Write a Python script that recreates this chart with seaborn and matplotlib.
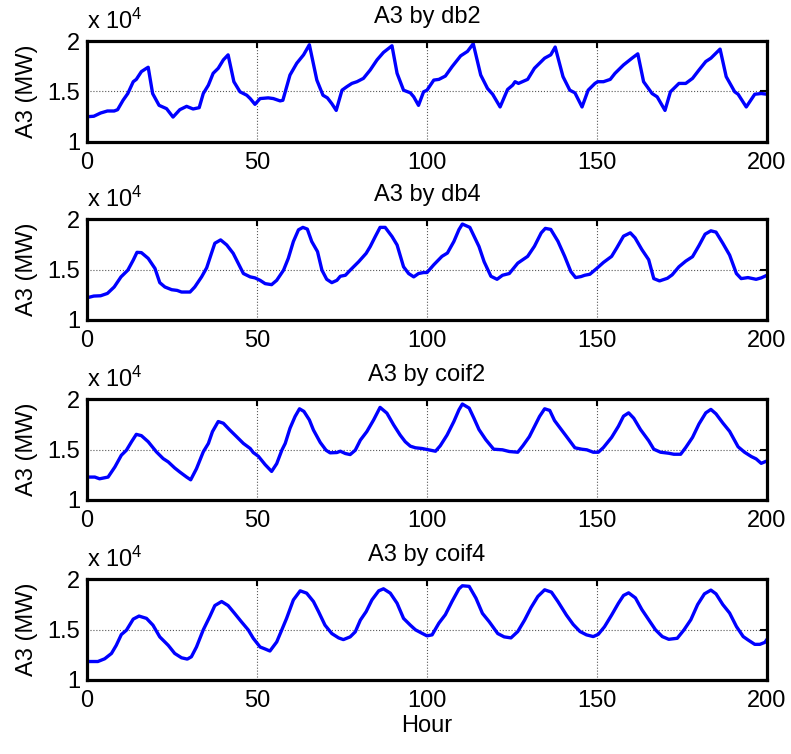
import numpy as np
import pandas as pd
import matplotlib
matplotlib.use("Agg")
import matplotlib.pyplot as plt
import seaborn as sns

# hour / load pairs
h_db2 = [0, 2, 4, 6, 8, 9, 10.6, 12, 13.6, 14.5,
         16, 17.5, 18, 19.3, 21.2, 23.4, 25.3, 27.3, 29.3, 31.2,
         33, 34.2, 35.7, 37.1, 38.6, 40.1, 41.5, 43.2, 45, 47,
         48, 49.4, 50.9, 53.3, 54.8, 56.8, 57.6, 59.7, 61.7, 63.7,
         65.4, 67.6, 69.4, 70.7, 72, 73.3, 75, 76.4, 77.9, 79.4,
         81.3, 83.3, 85.3, 87.2, 89.7, 91.2, 93.1, 95.1, 96.1, 97.5,
         99, 100, 102, 103.5, 105.4, 107.4, 109.9, 111.9, 113.6, 115.8,
         117.8, 119.3, 121.5, 123.7, 125.2, 125.9, 126.9, 129.6, 131.6, 134.6,
         136.4, 137.7, 140, 142, 143.5, 145.6, 147.4, 149.4, 150.2, 151.9,
         153.9, 155.3, 157.8, 160.3, 162, 163.7, 166.2, 167.7, 170, 171.6,
         174.1, 176.1, 178.1, 180, 182, 183.5, 186.2, 188, 190.5, 191.5,
         193.9, 196.4, 198.3, 200]
mw_db2 = [12500, 12550, 12870, 13070, 13070, 13200, 14130, 14800, 15970, 16200,
          16970, 17300, 17400, 14800, 13630, 13300, 12470, 13200, 13530, 13270,
          13400, 14800, 15630, 16800, 17300, 18130, 18630, 15970, 14970, 14630,
          14300, 13730, 14300, 14370, 14300, 14070, 14130, 16630, 17800, 18630,
          19630, 16130, 14630, 14370, 13800, 13130, 15130, 15470, 15800, 15970,
          16300, 17130, 18130, 18870, 19530, 16800, 15130, 14870, 14470, 13630,
          14970, 15130, 16130, 16200, 16530, 17470, 18530, 18970, 19730, 16630,
          15300, 14730, 13470, 15200, 15630, 15970, 15800, 16200, 17300, 18300,
          18630, 19400, 16470, 15130, 14870, 13470, 15130, 15800, 15970, 15970,
          16200, 16800, 17630, 18300, 18730, 15970, 14800, 14470, 13130, 14970,
          15800, 15800, 16300, 17130, 17970, 18300, 19200, 16470, 14970, 14730,
          13470, 14730, 14800, 14730]

h_db4 = [0, 2, 4, 6, 8, 10, 12, 13.6, 14.7, 16,
         18, 20, 21.4, 22.9, 24.9, 26.5, 27.8, 30.3, 31.7, 33.7,
         35.2, 36.6, 37.6, 39.3, 41.1, 43, 44.5, 46, 48, 49.4,
         50.9, 52.4, 54.3, 55.8, 57.8, 59.2, 60.7, 62.2, 63.5, 64.8,
         66.1, 67.8, 69.1, 70.5, 72, 73.5, 74.5, 76, 77.4, 79.9,
         82.1, 83.3, 84.8, 86.2, 87.7, 89.7, 91.2, 93.1, 94.6, 96.1,
         97.5, 99, 100, 102, 104.4, 106, 107.9, 109.4, 110.4, 112.6,
         115.3, 116.8, 118.8, 120.6, 122.2, 124.2, 126.7, 129.6, 131.6, 133.6,
         134.8, 136.4, 138.5, 140.5, 142.3, 143.7, 145.3, 146.4, 147.9, 149.9,
         151.9, 154.3, 155.8, 157.8, 159.8, 161.2, 163.2, 165.2, 166.7, 168.4,
         170.7, 172.1, 174.1, 176.1, 178.1, 180, 181.8, 183.5, 185, 187,
         189, 191, 192.4, 194.4, 196.8, 198.3, 200]
mw_db4 = [12200, 12370, 12400, 12630, 13270, 14270, 14930, 15930, 16700, 16670,
          16100, 15100, 13700, 13270, 13000, 12930, 12770, 12770, 13270, 14270,
          15170, 16600, 17600, 17930, 17430, 16600, 15600, 14600, 14270, 14170,
          13930, 13600, 13500, 13930, 14930, 16100, 17770, 18930, 19170, 19000,
          17770, 16770, 14930, 14030, 13700, 13930, 14330, 14430, 14930, 15770,
          16600, 17270, 18270, 19170, 19170, 18270, 17430, 15270, 14600, 14270,
          14600, 14700, 14700, 15470, 16300, 16630, 17770, 18950, 19500, 19170,
          17270, 15770, 14330, 14030, 14430, 14600, 15630, 16300, 17300, 18630,
          19070, 18970, 17800, 16300, 14800, 14200, 14300, 14430, 14530, 15100,
          15700, 16300, 17130, 18300, 18630, 18130, 16970, 15970, 14100, 13870,
          14130, 14470, 15270, 15830, 16270, 17370, 18500, 18830, 18700, 17600,
          16430, 14600, 14100, 14200, 14030, 14170, 14430]

h_coif2 = [0, 2.3, 3.7, 6.2, 8.2, 10.1, 11.6, 13.1, 14.5, 16,
           18, 20.4, 22.4, 23.9, 25.8, 27.3, 29.3, 30.5, 32.2, 34.2,
           35.7, 36.9, 38.6, 40.1, 42, 44, 46, 48, 48.9, 50.4,
           52.4, 54.3, 55.8, 57.3, 58.3, 59.7, 61.2, 62.5, 63.8, 65.4,
           66.6, 68.6, 70.3, 71.5, 73.5, 74.5, 76, 77.4, 78.9, 80.4,
           82.3, 84.3, 86.2, 88.2, 90.2, 92.1, 93.6, 95.1, 96.6, 98.5,
           100, 102.5, 103.9, 105.9, 107.9, 109.4, 110.4, 112.4, 113.8, 115.3,
           117.3, 119.6, 122.2, 124.2, 126.7, 128.2, 130.1, 131.6, 133.1, 134.6,
           136.1, 137.5, 139.5, 141, 143.5, 145.5, 147, 148.9, 150.4, 151.9,
           154.3, 156.3, 157.8, 159.3, 160.8, 162.8, 165.2, 166.7, 168.7, 171.1,
           172.6, 174.6, 176.1, 178.1, 180, 182, 183.5, 185, 187, 189,
           191.5, 193.4, 195.4, 196.8, 198.3, 200]
mw_coif2 = [12270, 12270, 12100, 12270, 13270, 14430, 14930, 15770, 16500, 16370,
            15770, 14770, 14100, 13770, 13170, 12770, 12270, 12000, 13100, 14770,
            15600, 16770, 17770, 17600, 16930, 16270, 15600, 15100, 14700, 14330,
            13500, 12830, 13600, 14930, 15600, 17100, 18270, 19030, 18770, 17930,
            16930, 15700, 14930, 14670, 14700, 14830, 14600, 14500, 14930, 15930,
            16770, 17930, 19170, 18600, 17430, 16430, 15770, 15330, 15170, 15100,
            15000, 14830, 15370, 16430, 17770, 18930, 19500, 19100, 18100, 16970,
            15970, 15030, 14970, 14800, 14730, 15370, 16270, 17270, 18270, 19030,
            18870, 17870, 16970, 16300, 15170, 15030, 14970, 14730, 14730, 15200,
            16200, 17300, 18300, 18630, 18100, 16970, 15870, 15030, 14730, 14630,
            14530, 14530, 15200, 16200, 17530, 18630, 18970, 18530, 17630, 16800,
            15270, 14730, 14300, 14070, 13630, 13870]

h_coif4 = [0, 3.2, 5.2, 7.2, 8.6, 10.1, 11.6, 13.6, 15.3, 17.5,
           19.4, 21.4, 23.9, 25.8, 27.8, 29.5, 30.7, 32.2, 34.2, 36.1,
           37.6, 39.6, 41.5, 43.4, 45.4, 47.4, 48.9, 50.9, 52.4, 53.8,
           55.8, 57.3, 58.7, 60.7, 62.7, 64.6, 66.6, 68.1, 70, 72,
           74, 75.4, 77.4, 78.9, 80.4, 82.1, 83.8, 85.8, 87.2, 89.2,
           91.2, 93.1, 95.1, 96.6, 98.5, 100, 101.5, 103.5, 105.4, 107.4,
           109.4, 110.4, 112.4, 114.4, 116.3, 118.3, 120.8, 122.7, 124.7, 126.7,
           128.7, 130.6, 132.6, 134.6, 136.6, 138.5, 141, 143, 145, 146.9,
           148.9, 150.4, 152.2, 154.3, 156.3, 157.8, 159.3, 161.3, 163.2, 165.2,
           167.2, 169.2, 171.1, 173.6, 175.6, 177.6, 179.6, 181.6, 183.5, 185,
           187, 189, 191, 193, 194.4, 196.4, 197.9, 199.4, 200]
mw_coif4 = [11830, 11830, 12100, 12630, 13430, 14500, 14930, 16030, 16330, 16100,
            15430, 14270, 13430, 12630, 12200, 12070, 12300, 13270, 14970, 16270,
            17370, 17770, 17370, 16600, 15770, 14970, 14130, 13270, 13070, 12870,
            13770, 14970, 16100, 17930, 18830, 18600, 17770, 16770, 15430, 14600,
            14170, 14000, 14270, 14770, 15930, 16770, 17930, 18830, 19030, 18600,
            17600, 16100, 15430, 14970, 14630, 14370, 14470, 15630, 16470, 17800,
            19030, 19330, 19270, 18100, 16600, 15770, 14600, 14270, 14170, 14800,
            15930, 17170, 18270, 18930, 18700, 17770, 16430, 15500, 14800, 14470,
            14300, 14530, 15270, 16430, 17600, 18370, 18630, 18130, 16970, 15970,
            14970, 14300, 14030, 14130, 14970, 15970, 17470, 18530, 18900, 18530,
            17470, 16630, 15300, 14300, 13970, 13530, 13530, 13730, 14030]

names = ["db2", "db4", "coif2", "coif4"]
x_ticks = [0, 50, 100, 150, 200]
y_ticks = [10000, 15000, 20000]
y_tick_labels = ["1", "1.5", "2"]

sns.set_style("white")
plt.rcParams['font.family'] = ['Liberation Sans', 'DejaVu Sans']
plt.rcParams['mathtext.fontset'] = 'custom'
plt.rcParams['mathtext.rm'] = 'Liberation Sans'
plt.rcParams['mathtext.it'] = 'Liberation Sans'
plt.rcParams['text.color'] = 'k'
plt.rcParams['axes.labelcolor'] = 'k'
fs = 17

series = [(h_db2, mw_db2), (h_db4, mw_db4), (h_coif2, mw_coif2), (h_coif4, mw_coif4)]
tops = [41, 219, 399, 579]

fig = plt.figure(figsize=(7.91, 7.54), dpi=100)
for i, (name, (h, v)) in enumerate(zip(names, series)):
    ax = fig.add_axes([87 / 791, 1 - (tops[i] + 101) / 754, 680 / 791, 101 / 754])
    df = pd.DataFrame({"Hour": h, "MW": v})
    sns.lineplot(data=df, x="Hour", y="MW", ax=ax, color=(0, 0, 1), lw=2.4,
                 estimator=None, sort=False)
    ax.set_xlim(0, 200)
    ax.set_ylim(10000, 20000)
    ax.set_xticks(x_ticks)
    ax.set_xticklabels([str(t) for t in x_ticks])
    ax.set_yticks(y_ticks)
    ax.set_yticklabels(y_tick_labels)
    ax.grid(True, ls=':', color='0.35', lw=0.8)
    ax.tick_params(direction='in', length=5, width=1.5, top=True, right=True,
                   labelsize=fs, colors='k')
    ax.tick_params(axis='x', pad=7)
    ax.tick_params(axis='y', pad=5)
    for s in ax.spines.values():
        s.set_linewidth(2.3)
        s.set_color('k')
    ax.set_title("A3 by " + name, fontsize=fs, pad=13, color='k')
    ax.set_ylabel("A3 (MW)", fontsize=fs, labelpad=7)
    ax.set_xlabel("Hour" if i == 3 else "", fontsize=fs, labelpad=2)
    ax.annotate("x 10$^{4}$", xy=(0, 1), xycoords='axes fraction', xytext=(0, 9),
                textcoords='offset points', fontsize=fs, ha='left', va='baseline',
                color='k')

fig.savefig("out.png", dpi=100)
